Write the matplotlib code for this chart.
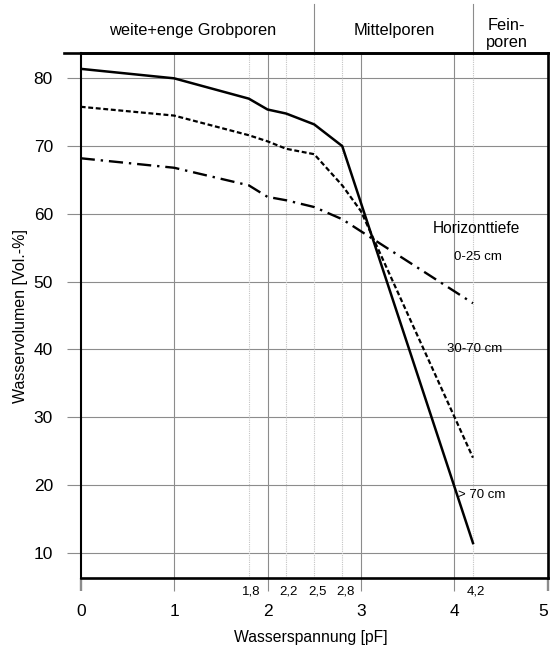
import matplotlib
matplotlib.use("Agg")
import matplotlib.pyplot as plt
import matplotlib.transforms as mtransforms

plt.rcParams['font.family'] = ['Liberation Sans', 'DejaVu Sans']

# pF values and water contents
pf_tief = [0, 1, 1.8, 2.0, 2.2, 2.5, 2.8, 4.2]
vol_tief = [81.4, 80.0, 77.0, 75.4, 74.8, 73.2, 70.0, 11.4]          # > 70 cm
pf_mitte = [0, 1, 1.8, 2.0, 2.2, 2.5, 2.8, 3.0, 4.2]
vol_mitte = [75.8, 74.5, 71.6, 70.7, 69.6, 68.8, 64.2, 60.4, 24.0]   # 30-70 cm
pf_oben = [0, 1, 1.8, 2.0, 2.2, 2.5, 2.8, 4.2]
vol_oben = [68.2, 66.8, 64.2, 62.5, 62.0, 61.0, 59.2, 46.8]          # 0-25 cm

main_ticks = [0, 1, 2, 3, 4, 5]
sub_ticks = [1.8, 2.2, 2.5, 2.8, 4.2]
sub_labels = ['1,8', '2,2', '2,5', '2,8', '4,2']
y_ticks = [10, 20, 30, 40, 50, 60, 70, 80]

bereiche = ['weite+enge Grobporen', 'Mittelporen', 'Fein-\nporen']
bereich_x = [1.20, 3.36, 4.56]
grenzen = [2.5, 4.2]

fig = plt.figure(figsize=(5.51, 6.47), dpi=100)
ax = fig.add_axes([0.1465, 0.1062, 0.8475, 0.8120])
ax.set_xlim(0, 5)
ax.set_ylim(6.2, 83.75)

# grid
for v in y_ticks:
    ax.axhline(v, color='#8c8c8c', lw=0.8, zorder=1)
for v in main_ticks[1:5]:
    ax.axvline(v, color='#8c8c8c', lw=0.8, zorder=1)
for v in sub_ticks:
    ax.axvline(v, color='#c4c4c4', lw=0.8, ls=(0, (1, 1)), zorder=1)

# curves
ax.plot(pf_tief, vol_tief, color='black', lw=1.8, zorder=3)
ax.plot(pf_mitte, vol_mitte, color='black', lw=1.6, ls=(0, (2.2, 1.2)), zorder=3)
ax.plot(pf_oben, vol_oben, color='black', lw=1.7, ls=(0, (6, 2.5, 1, 2.5)), zorder=3)

# frame
for s in ['top', 'bottom', 'right']:
    ax.spines[s].set_linewidth(1.9)
ax.spines['left'].set_linewidth(1.5)
ax.plot([-0.035, 1], [1, 1], transform=ax.transAxes, color='black',
        lw=1.9, clip_on=False, zorder=5)

# ticks
ax.set_xticks(main_ticks)
ax.set_xticklabels([str(t) for t in main_ticks], fontsize=12.5)
ax.tick_params(axis='x', direction='out', length=9.5, width=0.8,
               color='#8c8c8c', pad=9)
ticks = ax.xaxis.get_major_ticks()
for t in (ticks[0], ticks[-1]):
    t.tick1line.set_color('black')
    t.tick1line.set_markeredgewidth(1.7)
ticks[-1].label1.set_horizontalalignment('right')

ax.set_yticks(y_ticks)
ax.set_yticklabels([str(t) for t in y_ticks], fontsize=12.5)
ax.tick_params(axis='y', direction='out', length=10, width=0.8,
               color='#8c8c8c', pad=10)

trans = mtransforms.blended_transform_factory(ax.transData, ax.transAxes)
for v, lab in zip(sub_ticks, sub_labels):
    ax.text(v + 0.03, -0.026, lab, transform=trans, ha='center', va='center',
            fontsize=9.5)

# header with pore classes
for v in grenzen:
    ax.plot([v, v], [1, 1.094], transform=trans, color='#8c8c8c', lw=0.8,
            clip_on=False)
for x, lab in zip(bereich_x, bereiche):
    ax.text(x, 1.042 if '\n' not in lab else 1.036, lab, transform=trans,
            ha='center', va='center', fontsize=11.8, linespacing=1.15)

# curve labels
ax.text(4.24, 57.9, 'Horizonttiefe', ha='center', va='center', fontsize=11.2)
ax.text(4.25, 53.6, '0-25 cm', ha='center', va='center', fontsize=9.5)
ax.text(4.22, 40.0, '30-70 cm', ha='center', va='center', fontsize=9.5)
ax.text(4.29, 18.5, '> 70 cm', ha='center', va='center', fontsize=9.5)

ax.set_xlabel('Wasserspannung [pF]', fontsize=11.3, va='center')
ax.xaxis.set_label_coords(0.493, -0.112)
ax.set_ylabel('Wasservolumen [Vol.-%]', fontsize=11.5, va='center')
ax.yaxis.set_label_coords(-0.13, 0.5)

fig.savefig('out.png', dpi=100)
